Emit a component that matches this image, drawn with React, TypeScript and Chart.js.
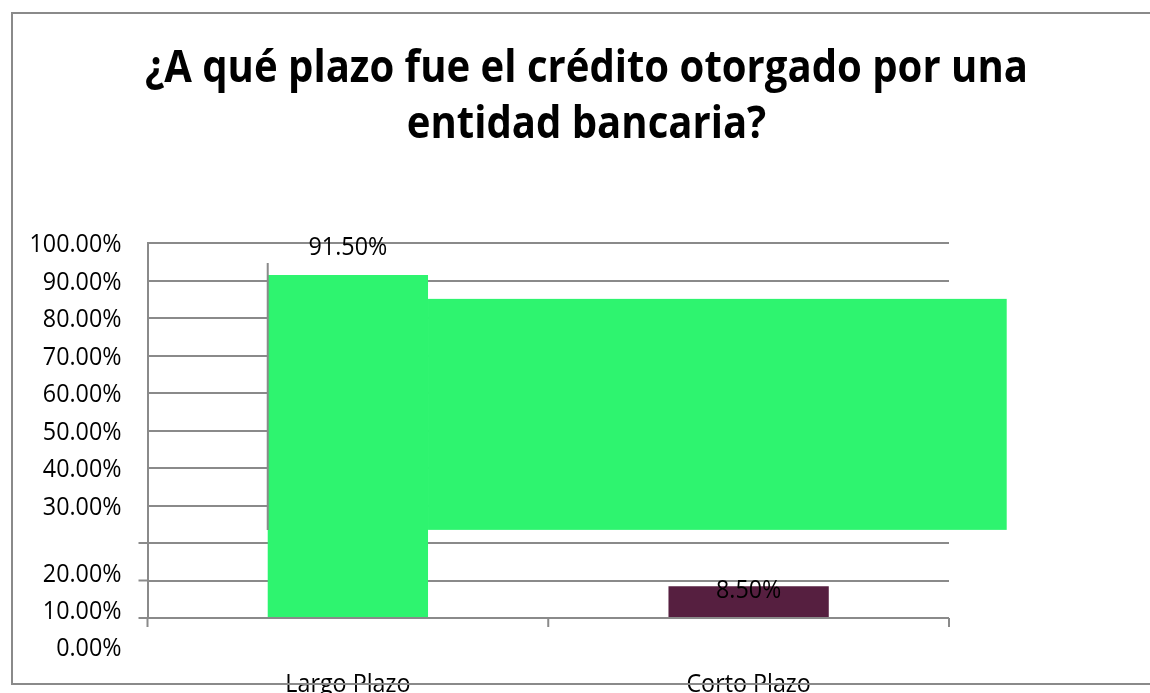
import React, { useEffect, useRef } from "react";
import { Chart, registerables } from "chart.js";

Chart.register(...registerables);

// ---- data ----
const TITLE_LINES = ["¿A qué plazo fue el crédito otorgado por una", "entidad bancaria?"];
const CATEGORIES = ["Largo Plazo", "Corto Plazo"];
const VALUES = [91.5, 8.5];
const BAR_COLORS = ["#2EF46F", "#561F40"];
const VALUE_LABELS = ["91.50%", "8.50%"];
const VALUE_LABEL_AT = [99.3, 7.7];
const Y_TICK_LABELS = [
  "100.00%", "90.00%", "80.00%", "70.00%", "60.00%", "50.00%",
  "40.00%", "30.00%", "20.00%", "10.00%", "0.00%",
];
const Y_TICK_LABEL_AT = [100, 90, 80, 70, 60, 50, 40, 30, 12, 2.1, -7.7];
const Y_TICK_MARKS_AT = [20, 10, 0];
const X_TICK_MARKS_AT = [-0.5, 0.5, 1.5];
// stray shapes present in the source picture (in axis units)
const STRAY_BOX_X = [0.2, 1.644];
const STRAY_BOX_Y = [23.5, 85.1];
const STRAY_LINE_X = [-0.2];
const STRAY_LINE_Y = [23.5, 94.7];

const GRID = "#8a8a8a";
const FONT = "'Open Sans'";

function fitSize(ctx: CanvasRenderingContext2D, text: string, weight: string, target: number) {
  ctx.font = `${weight} 100px ${FONT}`;
  const w = ctx.measureText(text).width;
  return (100 * target) / w;
}

function drawCentered(ctx: CanvasRenderingContext2D, text: string, x: number, cy: number, align: CanvasTextAlign) {
  const m = ctx.measureText("0");
  const asc = m.actualBoundingBoxAscent * 1.08;
  ctx.save();
  ctx.translate(x, cy + asc / 2);
  ctx.scale(1, 1.08);
  ctx.textAlign = align;
  ctx.textBaseline = "alphabetic";
  ctx.fillText(text, 0, 0);
  ctx.restore();
}

const overlayPlugin = {
  id: "overlay",
  beforeDatasetsDraw(chart: any) {
    const { ctx, scales } = chart;
    const x = scales.x, y = scales.y;
    ctx.save();
    ctx.fillStyle = BAR_COLORS[0];
    const x0 = x.getPixelForValue(STRAY_BOX_X[0]);
    const x1 = x.getPixelForValue(STRAY_BOX_X[1]);
    const y0 = y.getPixelForValue(STRAY_BOX_Y[1]);
    const y1 = y.getPixelForValue(STRAY_BOX_Y[0]);
    ctx.fillRect(x0, y0, x1 - x0, y1 - y0);
    ctx.restore();
  },
  afterDatasetsDraw(chart: any) {
    const { ctx, scales, chartArea } = chart;
    const x = scales.x, y = scales.y;
    ctx.save();
    ctx.strokeStyle = GRID;
    ctx.lineWidth = 2;
    // stray vertical line
    const lx = x.getPixelForValue(STRAY_LINE_X[0]);
    ctx.beginPath();
    ctx.moveTo(lx, y.getPixelForValue(STRAY_LINE_Y[1]));
    ctx.lineTo(lx, y.getPixelForValue(STRAY_LINE_Y[0]));
    ctx.stroke();

    // y tick marks
    for (const v of Y_TICK_MARKS_AT) {
      const py = y.getPixelForValue(v);
      ctx.beginPath();
      ctx.moveTo(chartArea.left - 9, py);
      ctx.lineTo(chartArea.left, py);
      ctx.stroke();
    }
    // x tick marks
    for (const v of X_TICK_MARKS_AT) {
      const px = x.getPixelForValue(v);
      ctx.beginPath();
      ctx.moveTo(px, chartArea.bottom);
      ctx.lineTo(px, chartArea.bottom + 9);
      ctx.stroke();
    }

    const size = fitSize(ctx, "100.00%", "normal", 92);
    ctx.font = `normal ${size}px ${FONT}`;
    ctx.fillStyle = "#000";
    // y labels
    Y_TICK_LABELS.forEach((t, i) => {
      drawCentered(ctx, t, chartArea.left - 26, y.getPixelForValue(Y_TICK_LABEL_AT[i]), "right");
    });
    // value labels
    VALUE_LABELS.forEach((t, i) => {
      drawCentered(ctx, t, x.getPixelForValue(i), y.getPixelForValue(VALUE_LABEL_AT[i]), "center");
    });
    // category labels
    CATEGORIES.forEach((t, i) => {
      drawCentered(ctx, t, x.getPixelForValue(i), chartArea.bottom + 64.5, "center");
    });

    // title
    const tsize = fitSize(ctx, TITLE_LINES[0], "bold", 883);
    ctx.font = `bold ${tsize}px ${FONT}`;
    ctx.textAlign = "center";
    ctx.textBaseline = "alphabetic";
    const baselines = [82, 138];
    TITLE_LINES.forEach((t, i) => {
      ctx.save();
      ctx.translate(586.5, baselines[i]);
      ctx.scale(1, 1.13);
      ctx.fillText(t, 0, 0);
      ctx.restore();
    });

    // outer frame
    ctx.strokeStyle = GRID;
    ctx.lineWidth = 2;
    ctx.strokeRect(12, 13, 1200, 671);
    ctx.restore();
  },
};

export default function App() {
  const ref = useRef<HTMLCanvasElement | null>(null);
  useEffect(() => {
    if (!ref.current) return;
    const chart = new Chart(ref.current, {
      type: "bar",
      data: {
        labels: CATEGORIES,
        datasets: [
          {
            data: VALUES,
            backgroundColor: BAR_COLORS,
            borderWidth: 0,
            barPercentage: 0.4,
            categoryPercentage: 1,
          },
        ],
      },
      options: {
        responsive: false,
        animation: false,
        layout: { padding: { left: 147.5, top: 243, right: 201, bottom: 75 } },
        plugins: {
          legend: { display: false },
          title: { display: false },
          tooltip: { enabled: false },
        },
        scales: {
          x: {
            grid: { display: false, drawTicks: false },
            ticks: { display: false },
            border: { display: false },
          },
          y: {
            min: 0,
            max: 100,
            ticks: { display: false, stepSize: 10 },
            grid: { color: GRID, lineWidth: 2, drawTicks: false },
            border: { display: true, color: GRID, width: 2 },
          },
        },
      },
      plugins: [overlayPlugin],
    });
    return () => chart.destroy();
  }, []);
  return (
    <div style={{ position: "fixed", left: 0, top: 0, width: 1150, height: 693, background: "#fff" }}>
      <canvas ref={ref} width={1150} height={693} />
    </div>
  );
}
